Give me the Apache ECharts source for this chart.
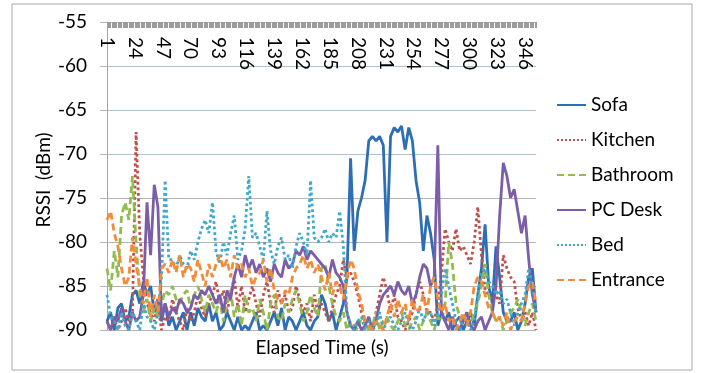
<!DOCTYPE html>
<html>
<head>
<meta charset="utf-8">
<script src="https://cdn.jsdelivr.net/npm/echarts@6/dist/echarts.min.js"></script>
<style>
  html, body { margin: 0; padding: 0; background: #fff; }
  #rssiChart { width: 706px; height: 373px; }
</style>
</head>
<body>
<div id="rssiChart"></div>
<script>
// elapsed time categories 1..355, one reading kept every 3 s
var times = [];
for (var t = 1; t <= 355; t++) { times.push(String(t)); }
var step = 3;

var seriesNames = ['Sofa', 'Kitchen', 'Bathroom', 'PC Desk', 'Bed', 'Entrance'];
var yTicks = [-90, -85, -80, -75, -70, -65, -60, -55];

var sofa = [
  -89, -88, -90, -87.5, -87, -89, -88.5, -86, -85.5, -87,
  -84.5, -86, -85, -88, -86.5, -89, -87, -89.5, -88.5, -90,
  -89, -88, -90, -88, -89.5, -87.5, -88.5, -89, -87, -89,
  -88, -90, -89.5, -88, -89, -90, -88.5, -90, -89.5, -90,
  -89, -88, -90, -89.5, -90, -89, -88, -89.5, -87.5, -90,
  -88.5, -89, -90, -89, -88, -89.5, -90, -89, -88.5, -86,
  -87, -89, -88, -90, -88.5, -87, -84, -70.5, -81, -76.5,
  -75, -73, -68.5, -68, -68.5, -68, -69, -80, -68, -67,
  -67.5, -66.8, -69.5, -67, -68.5, -73, -75.5, -81, -77, -79,
  -82, -89.5, -88, -89, -88, -90, -89, -88.5, -90, -89,
  -88, -89.5, -86, -83, -78, -85, -87, -80.5, -84, -88,
  -89, -89, -88, -90, -89, -87, -84, -83, -88
];
var kitchen = [
  -89, -90, -88.5, -90, -89, -87.5, -89, -88, -67.5, -79,
  -84, -87, -88, -89, -87, -90, -88.5, -89, -86.5, -88,
  -89, -90, -87.5, -89, -88, -86, -87.5, -88.5, -87, -86,
  -84.5, -87, -85.5, -88, -86, -84, -87.5, -85, -88, -86.5,
  -85, -87, -88.5, -86, -84.5, -87, -88, -85.5, -87, -86,
  -88, -87.5, -85, -86.5, -88, -87, -89, -86, -88, -87,
  -88, -89, -87.5, -86, -85, -82, -84, -83.5, -84.5, -86,
  -88, -89, -90, -89.5, -88, -86, -84, -85.5, -88, -86,
  -88.5, -89, -90, -89, -88, -86, -84.5, -86, -88, -88,
  -89, -87, -83.5, -78.5, -80, -81, -78.5, -81, -80.5, -81.5,
  -82.5, -80, -76, -81.5, -85.5, -86, -86.5, -86, -87, -81.5,
  -83, -84, -84.5, -87.5, -89, -88, -89.5, -88, -90
];
var bathroom = [
  -83, -85.5, -81, -84, -77, -75.5, -77.5, -72.5, -80, -86,
  -88, -86.5, -89, -87.5, -88.5, -87, -85.5, -86, -85, -86.5,
  -87, -86, -85.5, -87.5, -86, -85, -86.5, -88, -86, -87,
  -88, -86.5, -89, -87, -85.5, -88.5, -87, -89.5, -86, -88,
  -87.5, -89, -86.5, -88, -90, -87, -86, -88.5, -89, -87,
  -88, -86.5, -85.5, -87, -89, -88, -86, -87.5, -88.5, -83,
  -82.5, -85, -87, -88.5, -89, -88, -90, -89, -89.5, -90,
  -88.5, -89, -90, -89.5, -88, -90, -89, -88.5, -89.5, -90,
  -89, -88, -89.5, -90, -89, -88.5, -90, -89, -88, -89,
  -90, -88.5, -89, -87, -80, -82.5, -87, -88.5, -89, -88,
  -89.5, -88, -87, -85, -82.5, -86, -88, -89, -88.5, -90,
  -89, -88, -87.5, -86.5, -88, -89.5, -88, -87, -89
];
var pcDesk = [
  -89, -90, -88.5, -89, -87.5, -89, -90, -88, -89, -88.5,
  -86, -75.5, -81.5, -73.5, -76, -88.5, -87, -88.5, -87.5, -88,
  -86.5, -87, -88, -87.5, -86, -86.5, -85.5, -86, -85, -86,
  -87, -86, -88, -85.5, -86.5, -84, -82.5, -84, -81.5, -83,
  -82, -83.5, -82.5, -84, -83, -84.5, -82.5, -83.5, -84, -82,
  -83, -82.5, -81, -81.5, -80.5, -82, -81, -81.5, -82, -82.5,
  -83, -84, -82, -83.5, -84, -85, -88, -89.5, -90, -89,
  -90, -89.5, -88.5, -90, -89, -87, -86, -85.5, -85, -86,
  -84.5, -85.5, -86, -85, -87, -86, -84, -82.5, -83, -85,
  -84, -69, -88, -89, -90, -88.5, -89.5, -90, -89, -88,
  -89.5, -90, -89, -88.5, -90, -89, -88, -85, -77, -71,
  -72.5, -75, -74, -76.5, -79, -77, -82, -86, -88
];
var bed = [
  -86, -88.5, -89, -90, -88, -89.5, -90, -88, -89, -90,
  -87, -88.5, -89, -90, -88, -84, -73, -82, -82, -83,
  -81.5, -82.5, -83, -81, -82, -80, -78.5, -77.5, -79, -75.5,
  -81, -82.5, -80, -81.5, -79, -77, -82, -81, -78.5, -72.5,
  -79.5, -79, -80.5, -82, -76.5, -81, -82.5, -80.5, -79.5, -82,
  -81.5, -83, -80.5, -79, -80, -81.5, -73, -79.5, -80, -79.5,
  -78.5, -80, -79, -79.5, -76.5, -80.5, -88, -89.5, -90, -89,
  -88.5, -90, -89, -90, -89.5, -88, -90, -89, -88.5, -89.5,
  -90, -89, -88, -89.5, -90, -89, -87.5, -89, -88, -88,
  -89.5, -88, -86, -83, -85, -87, -89, -90, -88.5, -89,
  -90, -89, -86, -83.5, -83, -84.5, -85, -86, -85.5, -87,
  -86.5, -88, -89.5, -88, -87, -86, -83, -85, -88
];
var entrance = [
  -77.5, -76.5, -79, -80.5, -83, -85, -84, -79.5, -82.5, -85,
  -87, -84, -88.5, -86, -88, -83, -82.5, -83.5, -82, -83.5,
  -81.5, -84, -82.5, -83, -84.5, -82, -83.5, -85, -82.5, -84,
  -82.5, -81.5, -83, -82, -84, -81.5, -83, -82.5, -84, -83,
  -85, -84, -83.5, -82, -84.5, -83, -85.5, -86.5, -87, -85.5,
  -86, -84, -83, -82.5, -81.5, -83, -82, -83.5, -82.5, -84,
  -85.5, -83.5, -86, -84.5, -85, -86.5, -84, -82, -83, -85.5,
  -87, -89, -89.5, -90, -89, -89.5, -90, -88.5, -87, -88.5,
  -86.5, -88, -87, -89, -86.5, -88, -87.5, -86, -88, -85,
  -84, -86.5, -88, -87, -89, -88.5, -90, -89, -88, -89.5,
  -88, -85, -84, -84.5, -86, -87.5, -88, -89, -88.5, -89.5,
  -88, -90, -89, -88.5, -89, -87, -85, -84.5, -87
];

var seriesValues = [sofa, kitchen, bathroom, pcDesk, bed, entrance];
var seriesColors = ['#2e6eb5', '#c0504d', '#93bb4f', '#7b5ea7', '#3fa9c9', '#f28c3a'];
var seriesDash = ['solid', 'dotted', [7, 4], 'solid', 'dotted', [7, 4]];

function toPoints(values) {
    return values.map(function (v, k) { return [k * step, v]; });
}

var font = 'Lato, "Open Sans", sans-serif';
var rssiChart = echarts.init(document.getElementById('rssiChart'));

var option = {
    animation: false,
    backgroundColor: '#ffffff',
    textStyle: { fontFamily: font, color: '#000' },
    color: seriesColors,
    grid: { left: 107, right: 170, top: 22, bottom: 43 },
    legend: {
        data: seriesNames,
        orient: 'vertical',
        left: 556,
        top: 94,
        padding: 0,
        itemWidth: 29,
        itemHeight: 14,
        itemGap: 13,
        itemStyle: { opacity: 0 },
        textStyle: { fontFamily: font, fontSize: 19, color: '#000', lineHeight: 22 }
    },
    xAxis: {
        type: 'category',
        position: 'top',
        boundaryGap: false,
        data: times,
        axisLine: { show: false },
        axisTick: {
            interval: 0,
            inside: true,
            length: 6,
            lineStyle: { color: '#9c9c9c', width: 1 }
        },
        axisLabel: {
            interval: 22,
            inside: true,
            rotate: 90,
            margin: 15,
            fontSize: 19,
            fontFamily: font,
            color: '#000'
        },
        splitLine: { show: false }
    },
    yAxis: {
        type: 'value',
        min: yTicks[0],
        max: yTicks[yTicks.length - 1],
        interval: 5,
        axisLine: { show: true, lineStyle: { color: '#a6a6a6', width: 1 } },
        axisTick: { show: true, length: 7, lineStyle: { color: '#b4b4b4' } },
        axisLabel: { margin: 20, fontSize: 19, fontFamily: font, color: '#000' },
        splitLine: {
            lineStyle: {
                color: ['#b4b4b4', '#b4b4b4', '#b4b4b4', '#b4b4b4', '#a9c4d4', '#a9c4d4', '#a9c4d4', '#a9c4d4'],
                width: 1
            }
        }
    },
    graphic: [
        {
            type: 'rect',
            shape: { x: 12, y: 4, width: 680, height: 366 },
            style: { fill: 'none', stroke: '#a8a8a8', lineWidth: 1 },
            z: -1
        },
        {
            type: 'text',
            x: 322, y: 348,
            style: { text: 'Elapsed Time (s)', font: '19px ' + font, fill: '#000', align: 'center', verticalAlign: 'middle' }
        },
        {
            type: 'text',
            x: 44, y: 180,
            rotation: Math.PI / 2,
            style: { text: 'RSSI  (dBm)', font: '19px ' + font, fill: '#000', align: 'center', verticalAlign: 'middle' }
        }
    ],
    series: seriesNames.map(function (name, i) {
        return {
            name: name,
            type: 'line',
            symbol: 'none',
            showSymbol: false,
            data: toPoints(seriesValues[i]),
            lineStyle: { width: 2.8, type: seriesDash[i], color: seriesColors[i] },
            itemStyle: { color: seriesColors[i] }
        };
    })
};

rssiChart.setOption(option);
</script>
</body>
</html>
